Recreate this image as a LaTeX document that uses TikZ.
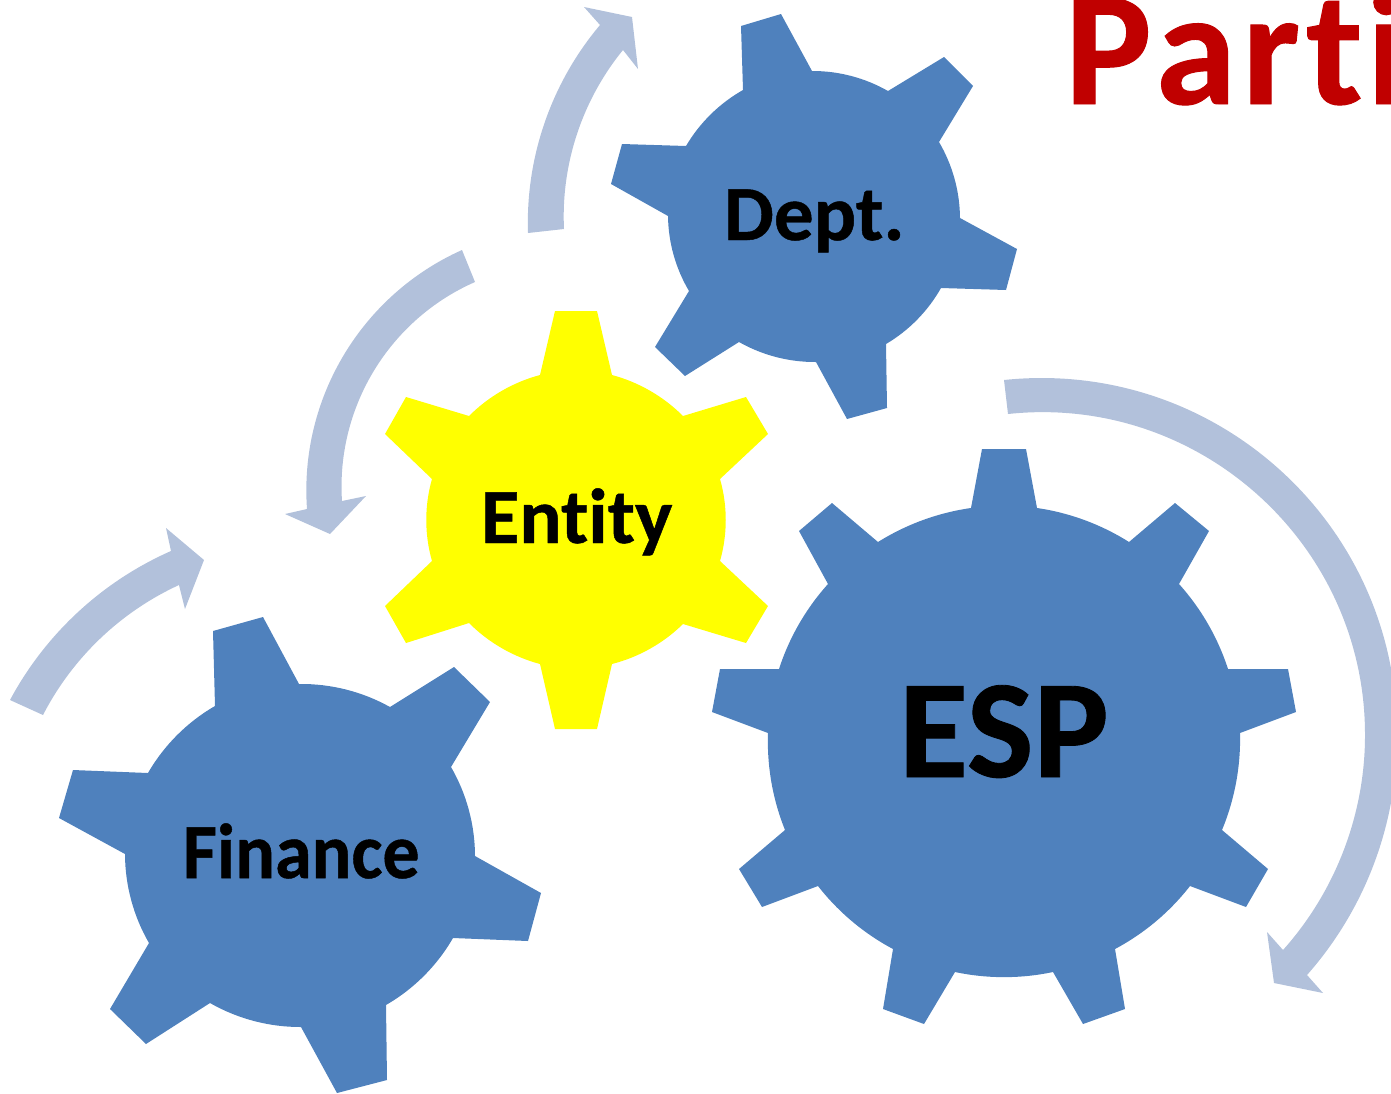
\documentclass[tikz,border=0pt]{standalone}
\usepackage{fontspec}
\setmainfont{Carlito}[Ligatures=NoCommon,BoldFeatures={FakeBold=0.6}]
\definecolor{gearblue}{HTML}{4F81BD}
\definecolor{gearyellow}{RGB}{255,255,0}
\definecolor{cyclecol}{HTML}{B2C1DB}
\definecolor{titlered}{HTML}{C00000}
\tikzset{
  bluegear/.style={fill=gearblue,line join=round},
  yellowgear/.style={fill=gearyellow,line join=round},
  cyclearrow/.style={fill=cyclecol},
  gearlabel/.style={anchor=base west,inner sep=0pt,outer sep=0pt,text=black},
  bl/.code={\pgfmathsetmacro\loosev{(4/3*tan(#1/2))/(2*sin(#1))/0.3915}\pgfkeysalso{bend left=#1,looseness=\loosev}},
  br/.code={\pgfmathsetmacro\loosev{(4/3*tan(#1/2))/(2*sin(#1))/0.3915}\pgfkeysalso{bend right=#1,looseness=\loosev}}
}
\begin{document}
\begin{tikzpicture}[x=1pt,y=-1pt]
\useasboundingbox (0,0) rectangle (1391,1093);
\clip (0,0) rectangle (1391,1093);
% Dept gear
\fill[bluegear] (741,26)--(781,14)--(812,71) to[bl=15] (888,91)--(944,57)--(973,86)--(939,142) to[bl=15] (960,218)--(1017,249)--(1006,290)--(941,288) to[bl=15] (886,344)--(887,408)--(847,419)--(816,362) to[bl=15] (739,342)--(685,376)--(655,347)--(689,291) to[bl=15] (668,216)--(611,184)--(622,144)--(686,146) to[bl=15] (743,90)--cycle;
% Entity gear
\fill[yellowgear] (555,311)--(597,311)--(612,375) to[bl=15] (683,416)--(746,397)--(768,434)--(720,479) to[bl=16] (720,561)--(768,606)--(746,643)--(683,624) to[bl=15] (612,664)--(597,729)--(555,729)--(540,664) to[bl=15] (469,623)--(406,643)--(385,606)--(432,561) to[bl=16] (432,479)--(385,434)--(406,397)--(469,416) to[bl=15] (540,375)--cycle;
% Finance gear
\fill[bluegear] (213,631)--(263,617)--(299,684) to[bl=15] (390,707)--(454,667)--(490,702)--(451,767) to[bl=15] (475,856)--(541,893)--(528,941)--(453,938) to[bl=15] (386,1005)--(387,1080)--(337,1093)--(301,1027) to[bl=15] (210,1003)--(146,1044)--(110,1009)--(149,943) to[bl=15] (125,854)--(59,818)--(73,770)--(148,773) to[bl=15] (215,706)--cycle;
% ESP gear
\fill[bluegear] (982,449)--(1026,449)--(1037,508) to[bl=12] (1129,542)--(1175,503)--(1209,531)--(1179,584) to[bl=12] (1228,669)--(1288,669)--(1296,712)--(1240,733) to[bl=12] (1222,830)--(1268,869)--(1246,907)--(1190,886) to[bl=12] (1115,949)--(1125,1009)--(1083,1024)--(1053,972) to[bl=12] (955,972)--(924,1024)--(883,1009)--(893,949) to[bl=12] (818,886)--(762,907)--(739,869)--(785,830) to[bl=12] (768,733)--(712,712)--(720,669)--(779,669) to[bl=12] (828,584)--(799,531)--(832,503)--(878,542) to[bl=12] (971,508)--cycle;
% cycle arrows
\fill[cyclearrow] (528,233) to[bl=21] (600,25)--(584,7)--(632,17)--(638,69)--(623,50) to[br=21] (564,229)--cycle;
\fill[cyclearrow] (462,250) to[br=35] (307,509)--(285,514)--(330,534)--(366,496)--(342,501) to[bl=35] (475,282)--cycle;
\fill[cyclearrow] (10,700) to[bl=19] (171,551)--(166,528)--(204,560)--(185,609)--(179,585) to[br=19] (43,715)--cycle;
\fill[cyclearrow] (1004,380) to[bl=48] (1397,734) to[bl=21] (1307,975)--(1323,993)--(1274,983)--(1267,932)--(1283,950) to[br=21] (1365,734) to[br=48] (1008,414)--cycle;
% labels
\node[gearlabel,font=\bfseries\fontsize{78}{78}\selectfont,xscale=1.015] (dept) at (724,240) {Dept.};
\node[gearlabel,font=\bfseries\fontsize{78}{78}\selectfont,xscale=1.01] (entity) at (481,543) {Entity};
\node[gearlabel,font=\bfseries\fontsize{78}{78}\selectfont,xscale=0.95] (finance) at (183,878) {Finance};
\node[gearlabel,font=\bfseries\fontsize{140}{140}\selectfont,xscale=1.01] (esp) at (899,777) {ESP};
\node[gearlabel,font=\bfseries\fontsize{163}{163}\selectfont,text=titlered] (title) at (1065,104) {P\kern4pt a\kern6pt r\kern6pt t\kern4pt i};
\end{tikzpicture}
\end{document}
